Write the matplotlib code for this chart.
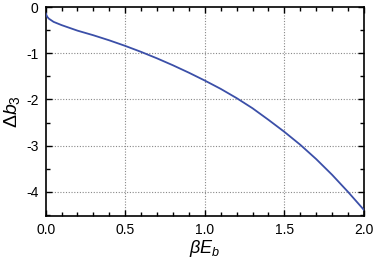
import matplotlib
matplotlib.use("Agg")
import matplotlib.pyplot as plt
from matplotlib.ticker import MultipleLocator
import numpy as np

plt.rcParams['font.family'] = ['Liberation Sans', 'DejaVu Sans']
plt.rcParams['mathtext.fontset'] = 'custom'
plt.rcParams['mathtext.rm'] = 'Liberation Sans'
plt.rcParams['mathtext.it'] = 'Liberation Sans:italic'
plt.rcParams['axes.unicode_minus'] = False

beta_Eb = [0.0, 0.01, 0.02, 0.05, 0.1, 0.2, 0.3, 0.4, 0.5, 0.6, 0.7, 0.8, 0.9,
           1.0, 1.1, 1.2, 1.3, 1.4, 1.5, 1.6, 1.7, 1.8, 1.9, 2.0]
delta_b3 = [-0.13, -0.21, -0.25, -0.32, -0.39, -0.51, -0.61, -0.72, -0.84, -0.97,
            -1.11, -1.26, -1.42, -1.59, -1.77, -1.97, -2.19, -2.44, -2.70, -2.98,
            -3.29, -3.63, -4.00, -4.39]

xticks = [0.0, 0.5, 1.0, 1.5, 2.0]
xticklabels = ["0.0", "0.5", "1.0", "1.5", "2.0"]
yticks = [0, -1, -2, -3, -4]
yticklabels = ["0", "-1", "-2", "-3", "-4"]

fig = plt.figure(figsize=(3.74, 2.62), dpi=100)
ax = fig.add_axes([0.122, 0.176, 0.851, 0.797])

ax.plot(beta_Eb, delta_b3, color='#3b4fa8', lw=1.3, zorder=3)

ax.set_xlim(0, 2.0)
ax.set_ylim(-4.52, 0)
ax.set_xticks(xticks)
ax.set_xticklabels(xticklabels)
ax.set_yticks(yticks)
ax.set_yticklabels(yticklabels)
ax.xaxis.set_minor_locator(MultipleLocator(0.1))
ax.yaxis.set_minor_locator(MultipleLocator(0.5))

for v in xticks[1:-1]:
    ax.axvline(v, color='#888888', lw=0.8, ls=(0, (1, 1.5)), zorder=1)
for v in yticks[1:]:
    ax.axhline(v, color='#888888', lw=0.8, ls=(0, (1, 1.5)), zorder=1)

ax.tick_params(which='both', direction='in', top=True, right=True,
               labelsize=10, width=1.0, pad=5)
ax.tick_params(which='major', length=4)
ax.tick_params(which='minor', length=3)
for s in ax.spines.values():
    s.set_linewidth(1.2)

ax.set_xlabel(r'$\beta E_b$', fontsize=13, labelpad=1)
ax.set_ylabel(r'$\Delta b_3$', fontsize=14, labelpad=3)

fig.savefig('out.png', dpi=100)
